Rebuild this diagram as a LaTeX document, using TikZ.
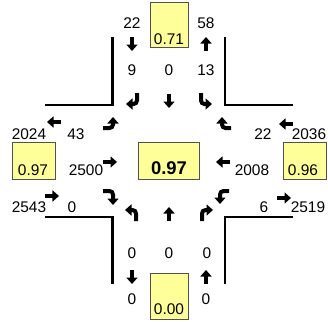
\documentclass[tikz,border=0pt]{standalone}
\usepackage{fontspec}
\setmainfont{Liberation Sans}
\usetikzlibrary{arrows.meta}
\definecolor{boxyellow}{HTML}{FFFF99}
\definecolor{boxedge}{HTML}{505050}
\tikzset{
  num/.style={inner sep=0pt,font=\fontsize{15.5}{18}\selectfont},
  bignum/.style={inner sep=0pt,font=\fontsize{18.5}{22}\selectfont\bfseries},
  vcbox/.style={draw=boxedge,line width=0.9bp,fill=boxyellow},
  curb/.style={line width=2.2bp,black},
  mv/.style={line width=4bp,black,rounded corners=3.5bp,
    -{Triangle[width=11bp,length=6.5bp]}},
}
\begin{document}
\begin{tikzpicture}[x=1bp,y=-1bp]
\useasboundingbox (0,0) rectangle (328,322);
% curbs
\draw[curb] (112.5,37) -- (112.5,105) -- (45,105);
\draw[curb] (225,37) -- (225,105) -- (293,105);
\draw[curb] (45,217) -- (112.5,217) -- (112.5,284);
\draw[curb] (293,217) -- (225,217) -- (225,284);
% boxes
\draw[vcbox] (150,2) rectangle (188,47);
\draw[vcbox] (150,273) rectangle (188,319);
\draw[vcbox] (12,142) rectangle (55,179);
\draw[vcbox] (283,142) rectangle (326,179);
\draw[vcbox] (138,142) rectangle (199,179);
% box texts
\node[num] (vt) at (169,39) {0.71};
\node[num] (vb) at (169,309) {0.00};
\node[num] (vl) at (33,170) {0.97};
\node[num] (vr) at (303,170) {0.96};
\node[bignum] (vc) at (169,168) {0.97};
% north
\node[num] (n1) at (132,23) {22};
\node[num] (n2) at (206,23) {58};
\node[num] (n3) at (132,70) {9};
\node[num] (n4) at (169,70) {0};
\node[num] (n5) at (206,70) {13};
% west
\node[num] (w1) at (29,134) {2024};
\node[num] (w2) at (76,134) {43};
\node[num] (w3) at (86,170) {2500};
\node[num] (w4) at (29,207) {2543};
\node[num] (w5) at (72,207) {0};
% east
\node[num] (e1) at (263,134) {22};
\node[num] (e2) at (309,134) {2036};
\node[num] (e3) at (252,170) {2008};
\node[num] (e4) at (264,207) {6};
\node[num] (e5) at (308,207) {2519};
% south
\node[num] (s1) at (132,253) {0};
\node[num] (s2) at (169,253) {0};
\node[num] (s3) at (207,253) {0};
\node[num] (s4) at (132,299) {0};
\node[num] (s5) at (206,299) {0};
% outer arrows
\draw[mv] (132,37) -- (132,51);
\draw[mv] (206,51) -- (206,37);
\draw[mv] (61,122) -- (47,122);
\draw[mv] (293,124) -- (279,124);
\draw[mv] (45,196) -- (59,196);
\draw[mv] (277,198) -- (291,198);
\draw[mv] (132,270) -- (132,284);
\draw[mv] (206,284) -- (206,270);
% southbound movements
\draw[mv] (137,93) |- (126,104);
\draw[mv] (169,94) -- (169,108);
\draw[mv] (201,93) |- (212,104);
% eastbound movements
\draw[mv] (103,128) -| (113,117);
\draw[mv] (103,162) -- (117,162);
\draw[mv] (103,191) -| (113,205);
% westbound movements
\draw[mv] (231,128) -| (222,117);
\draw[mv] (230,162) -- (216,162);
\draw[mv] (229,191) -| (220,204);
% northbound movements
\draw[mv] (136,221) |- (125,210);
\draw[mv] (169,221) -- (169,207);
\draw[mv] (202,221) |- (213,210);
\end{tikzpicture}
\end{document}
